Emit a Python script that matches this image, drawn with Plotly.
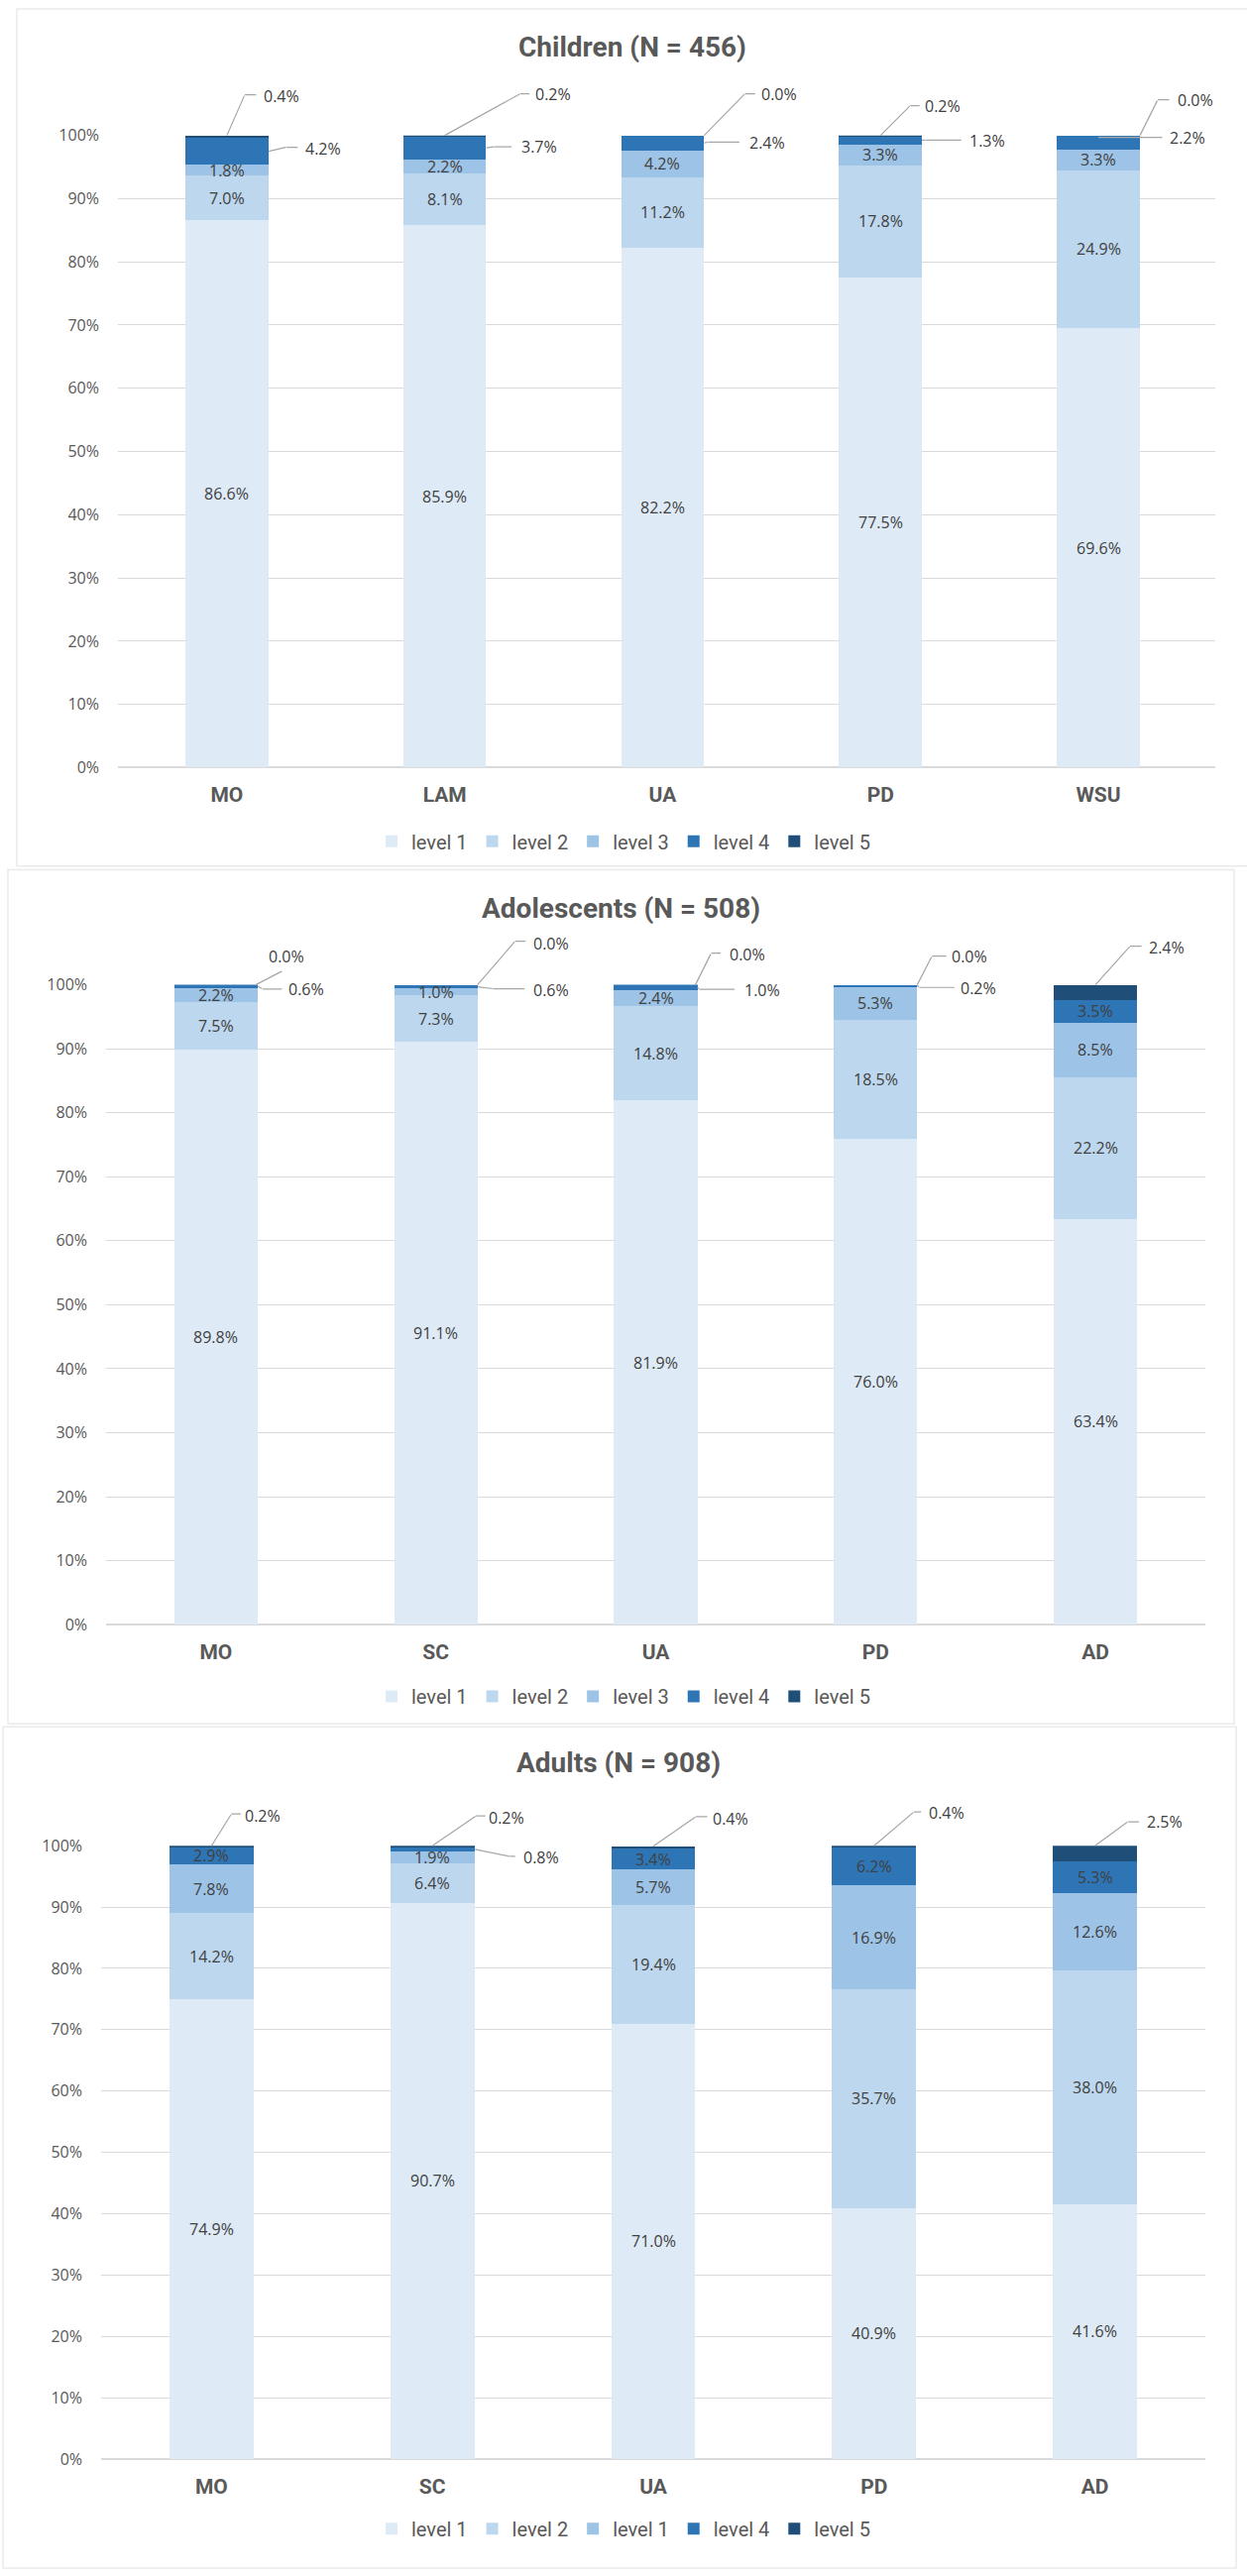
import plotly.graph_objects as go

W, H = 1258, 2599

# ---------------- data ----------------
levels = ["level 1", "level 2", "level 3", "level 4", "level 5"]
levels_adults = ["level 1", "level 2", "level 1", "level 4", "level 5"]  # as printed in the original legend

children_cats = ["MO", "LAM", "UA", "PD", "WSU"]
children_l1 = [86.6, 85.9, 82.2, 77.5, 69.6]
children_l2 = [7.0, 8.1, 11.2, 17.8, 24.9]
children_l3 = [1.8, 2.2, 4.2, 3.3, 3.3]
children_l4 = [4.2, 3.7, 2.4, 1.3, 2.2]
children_l5 = [0.4, 0.2, 0.0, 0.2, 0.0]

adolescents_cats = ["MO", "SC", "UA", "PD", "AD"]
adolescents_l1 = [89.8, 91.1, 81.9, 76.0, 63.4]
adolescents_l2 = [7.5, 7.3, 14.8, 18.5, 22.2]
adolescents_l3 = [2.2, 1.0, 2.4, 5.3, 8.5]
adolescents_l4 = [0.6, 0.6, 1.0, 0.2, 3.5]
adolescents_l5 = [0.0, 0.0, 0.0, 0.0, 2.4]

adults_cats = ["MO", "SC", "UA", "PD", "AD"]
adults_l1 = [74.9, 90.7, 71.0, 40.9, 41.6]
adults_l2 = [14.2, 6.4, 19.4, 35.7, 38.0]
adults_l3 = [7.8, 1.9, 5.7, 16.9, 12.6]
adults_l4 = [2.9, 0.8, 3.4, 6.2, 5.3]
adults_l5 = [0.2, 0.2, 0.4, 0.4, 2.5]

y_tick_vals = [0, 10, 20, 30, 40, 50, 60, 70, 80, 90, 100]
y_tick_text = ["0%", "10%", "20%", "30%", "40%", "50%", "60%", "70%", "80%", "90%", "100%"]

# ---------------- style ----------------
colors = ["#DEEBF7", "#BDD7EE", "#9DC3E6", "#2E75B6", "#1F4E79"]
GRID = "#D9D9D9"
TXT = "#595959"
LBL = "#404040"
LEAD = "#A6A6A6"
NARROW = "Liberation Sans Narrow, Roboto, Arial"
SANS = "Open Sans, DejaVu Sans, sans-serif"

# which levels get an in-bar label, per category
children_inside = [[0, 1, 2]] * 5
adolescents_inside = [[0, 1, 2]] * 4 + [[0, 1, 2, 3]]
adults_inside = [[0, 1, 2, 3], [0, 1, 2], [0, 1, 2, 3], [0, 1, 2, 3], [0, 1, 2, 3]]

# callouts: (category idx, level idx, kind, start dx, start dy, elbow dx, elbow dy, tick len, text dx, text dy)  [screen px, y down]
children_callouts = [
    (0, 4, "top", 0, 0, 18, -41, 12, 35, -40),
    (0, 3, "right", 42, 0, 60, -4, 12, 77, -3),
    (1, 4, "top", 0, 0, 76, -42, 10, 89, -42),
    (1, 3, "right", 42, 0, 50, -1, 18, 75, -1),
    (2, 4, "top", 42, 0, 83, -42, 11, 98, -42),
    (2, 3, "right", 42, 0, 46, -1, 32, 86, 0),
    (3, 4, "top", 0, 0, 30, -30, 10, 43, -30),
    (3, 3, "right", 42, 0, 46, 0, 36, 88, 1),
    (4, 4, "top", 42, 0, 60, -36, 12, 78, -36),
    (4, 3, "right", 0, -5, 0, -5, 65, 70, -5),
]
adolescents_callouts = [
    (0, 4, "top", 40, 0, 67, -14, 0, 51, -29),
    (0, 3, "right", 42, 0, 47, 3, 20, 71, 3),
    (1, 4, "top", 42, 0, 80, -44, 11, 96, -42),
    (1, 3, "right", 42, 0, 58, 2, 32, 96, 3),
    (2, 4, "top", 40, 0, 56, -32, 10, 72, -31),
    (2, 3, "right", 42, 0, 44, 2, 36, 87, 3),
    (3, 4, "top", 42, 0, 57, -29, 15, 75, -29),
    (3, 3, "right", 42, 0, 44, 2, 36, 84, 3),
    (4, 4, "top", 0, 0, 35, -39, 12, 52, -38),
]
adults_callouts = [
    (0, 4, "top", 0, 0, 20, -32, 10, 32, -30),
    (1, 4, "top", 0, 0, 44, -30, 10, 55, -28),
    (1, 3, "right", 43, 0, 78, 7, 6, 90, 8),
    (2, 4, "top", 0, 0, 43, -30, 12, 58, -28),
    (3, 4, "top", 0, 0, 40, -34, 8, 53, -33),
    (4, 4, "top", 0, 0, 33, -24, 12, 50, -24),
]

panels = [
    dict(title="Children (N = 456)", cats=children_cats,
         vals=[children_l1, children_l2, children_l3, children_l4, children_l5],
         names=levels, left=119, right=1226, y0=770, y100=126.7, title_y=37, legend_y=845,
         inside=children_inside, callouts=children_callouts,
         frame=(17, 1262, -2, 870)),
    dict(title="Adolescents (N = 508)", cats=adolescents_cats,
         vals=[adolescents_l1, adolescents_l2, adolescents_l3, adolescents_l4, adolescents_l5],
         names=levels, left=107, right=1216, y0=1642, y100=991, title_y=913, legend_y=1715,
         inside=adolescents_inside, callouts=adolescents_callouts,
         frame=(8, 1245, 874, 1743)),
    dict(title="Adults (N = 908)", cats=adults_cats,
         vals=[adults_l1, adults_l2, adults_l3, adults_l4, adults_l5],
         names=levels_adults, left=102, right=1216, y0=2491, y100=1867, title_y=1783, legend_y=2562,
         inside=adults_inside, callouts=adults_callouts,
         frame=(3, 1247, 1746, 2602)),
]


def fx(px):
    return px / W


def fy(px):
    return 1 - px / H


def leader(xa, ya, ci, yv, x_from, y_from, x_to, y_to):
    # a plain line drawn as an annotation arrow (not clipped to the plot area)
    return dict(
        text=" ", x=ci, y=yv, xref=xa, yref=ya,
        xshift=x_from, yshift=-y_from,
        ax=x_to - x_from, ay=y_to - y_from, axref="pixel", ayref="pixel",
        showarrow=True, arrowhead=0, arrowwidth=1.2, arrowcolor=LEAD,
        standoff=0, startstandoff=0, borderpad=0,
        font=dict(size=1, color="rgba(0,0,0,0)"),
    )


fig = go.Figure()
layout = dict(
    width=W, height=H, margin=dict(l=0, r=0, t=0, b=0),
    paper_bgcolor="white", plot_bgcolor="white",
    barmode="stack", bargap=0.62, showlegend=True,
)
annotations = []
shapes = []

for p_i, p in enumerate(panels):
    sfx = "" if p_i == 0 else str(p_i + 1)
    xa, ya = "x" + sfx, "y" + sfx
    leg = "legend" + sfx
    for lv in range(5):
        fig.add_trace(go.Bar(
            x=p["cats"], y=p["vals"][lv], name=p["names"][lv],
            marker=dict(color=colors[lv], line=dict(width=0)),
            xaxis=xa, yaxis=ya, legend=leg, hoverinfo="skip",
        ))
    layout["xaxis" + sfx] = dict(
        domain=[fx(p["left"]), fx(p["right"])], anchor=ya, type="category",
        categoryorder="array", categoryarray=p["cats"],
        showgrid=False, showline=False, zeroline=False, ticks="",
        tickfont=dict(family=NARROW, size=21, color=TXT, weight="bold"),
        ticklabelstandoff=13, fixedrange=True,
    )
    layout["yaxis" + sfx] = dict(
        domain=[fy(p["y0"]), fy(p["y100"])], anchor=xa, range=[0, 100],
        tickvals=y_tick_vals, ticktext=y_tick_text,
        showgrid=True, gridcolor=GRID, gridwidth=1,
        zeroline=True, zerolinecolor=GRID, zerolinewidth=1.5,
        showline=False, ticks="", ticklabelstandoff=18,
        tickfont=dict(family=SANS, size=16, color=TXT), fixedrange=True,
    )
    layout[leg] = dict(
        orientation="h", x=0.5, xanchor="center", y=fy(p["legend_y"]), yanchor="middle",
        font=dict(family=NARROW, size=20, color=TXT), traceorder="normal",
        itemwidth=30, bgcolor="rgba(0,0,0,0)",
    )
    annotations.append(dict(
        text="<b>" + p["title"] + "</b>", xref="paper", yref="paper",
        x=fx((p["left"] + p["right"]) / 2 - 35), y=fy(p["title_y"]),
        xanchor="center", yanchor="middle", showarrow=False,
        font=dict(family=NARROW, size=28, color=TXT),
    ))
    fr = p["frame"]
    shapes.append(dict(type="rect", xref="paper", yref="paper",
                       x0=fx(fr[0]), x1=fx(fr[1]), y0=fy(fr[3]), y1=fy(fr[2]),
                       line=dict(color="#EAEAEA", width=1.5), layer="below"))

    n = len(p["cats"])
    for ci in range(n):
        base = 0.0
        tops = []
        for lv in range(5):
            v = p["vals"][lv][ci]
            tops.append((base, base + v))
            base += v
        total = base
        for lv in p["inside"][ci]:
            b0, b1 = tops[lv]
            annotations.append(dict(
                text=f"{p['vals'][lv][ci]:.1f}%", x=ci, y=(b0 + b1) / 2,
                xref=xa, yref=ya, showarrow=False, xanchor="center", yanchor="middle",
                font=dict(family=SANS, size=16, color=LBL),
            ))
        for (cc, lv, kind, sx, sy, ex, ey, tk, tx, ty) in p["callouts"]:
            if cc != ci:
                continue
            if kind == "top":
                yv = min(total, 100.0)
            else:
                b0, b1 = tops[lv]
                yv = min((b0 + b1) / 2, 100.0)
            if (sx, sy) != (ex, ey):
                annotations.append(leader(xa, ya, ci, yv, sx, sy, ex, ey))
            if tk > 0:
                annotations.append(leader(xa, ya, ci, yv, ex, ey, ex + tk, ey))
            annotations.append(dict(
                text=f"{p['vals'][lv][ci]:.1f}%", x=ci, y=yv,
                xref=xa, yref=ya, showarrow=False, xanchor="left", yanchor="middle",
                xshift=tx, yshift=-ty,
                font=dict(family=SANS, size=16, color=LBL),
            ))

layout["annotations"] = annotations
layout["shapes"] = shapes
fig.update_layout(**layout)
fig.write_html("out.html")
